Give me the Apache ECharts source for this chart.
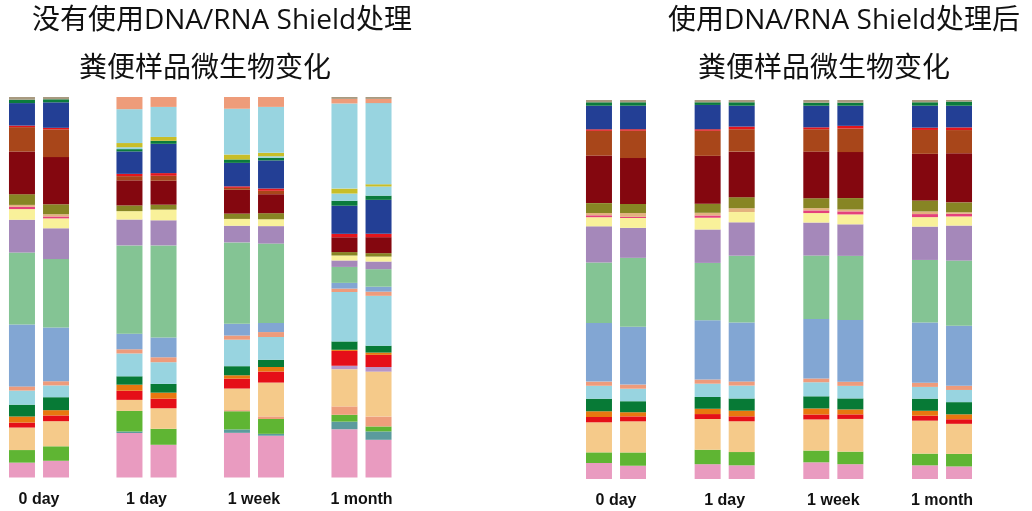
<!DOCTYPE html>
<html>
<head>
<meta charset="utf-8">
<script src="https://cdn.jsdelivr.net/npm/echarts@6/dist/echarts.min.js"></script>
<style>
  html, body { margin: 0; padding: 0; background: #fff; }
  #main { width: 1032px; height: 511px; }
</style>
</head>
<body>
<div id="main"></div>
<script>
// 时间点
const days = ['0 day', '1 day', '1 week', '1 month'];

// 各菌群相对丰度（自下而上），每组16个值：
// 未处理 0d a/b, 1d a/b, 1w a/b, 1m a/b，然后处理后同样顺序
const pink       = [3.9, 4.4, 11.7, 8.6, 11.8, 11.0, 12.7, 9.9, 4.2, 3.5, 3.9, 3.6, 4.4, 3.9, 3.6, 3.3];
const teal       = [0, 0, 0.4, 0, 0.9, 0.5, 2.0, 2.2, 0, 0, 0, 0, 0, 0, 0, 0];
const green      = [3.3, 3.8, 5.4, 4.2, 4.8, 3.9, 1.8, 1.3, 2.8, 3.5, 3.8, 3.5, 3.1, 3.3, 3.1, 3.3];
const salmonLow  = [0, 0, 0, 0, 0.3, 0.7, 2.2, 2.6, 0, 0, 0, 0, 0, 0, 0, 0];
const peach      = [5.9, 6.6, 2.9, 5.4, 5.7, 8.9, 9.8, 11.8, 7.9, 8.2, 8.1, 8.1, 8.2, 8.6, 8.7, 7.9];
const lavender   = [0, 0, 0, 0, 0, 0, 0.9, 1.2, 0, 0, 0, 0, 0, 0, 0, 0];
const red        = [1.3, 1.5, 2.4, 2.5, 2.6, 2.9, 3.9, 3.2, 1.4, 1.3, 1.3, 1.3, 1.3, 1.2, 1.3, 1.2];
const orange     = [1.6, 1.4, 1.6, 1.6, 0.9, 1.2, 0.3, 0.6, 1.5, 1.1, 1.4, 1.5, 1.6, 1.3, 1.3, 1.3];
const darkGreen  = [3.1, 3.4, 2.2, 2.3, 2.4, 1.9, 2.2, 1.8, 3.3, 2.9, 3.1, 3.2, 3.2, 2.9, 3.2, 3.2];
const skyBlue    = [3.7, 3.1, 6.0, 5.7, 7.0, 6.0, 13.0, 13.1, 3.4, 3.3, 3.5, 3.4, 3.7, 3.3, 3.1, 3.2];
const salmon     = [1.1, 1.1, 1.1, 1.3, 1.1, 1.3, 0.9, 1.1, 1.1, 1.1, 1.1, 1.1, 1.0, 1.1, 1.1, 1.1];
const steelBlue  = [16.2, 14.1, 4.1, 5.2, 3.1, 2.4, 1.5, 1.3, 15.4, 15.2, 15.6, 15.5, 15.7, 16.2, 15.9, 15.8];
const mint       = [18.9, 18.0, 23.2, 24.2, 21.5, 20.9, 4.2, 4.6, 15.9, 18.2, 15.1, 17.6, 16.7, 16.9, 16.5, 17.1];
const purple     = [8.6, 8.1, 6.8, 6.6, 4.4, 4.6, 1.7, 2.0, 9.5, 7.9, 8.8, 8.8, 8.7, 8.3, 8.8, 9.2];
const paleYellow = [2.8, 2.6, 2.2, 2.8, 1.8, 1.8, 1.3, 1.3, 2.4, 2.6, 3.1, 2.7, 2.5, 2.6, 2.5, 2.4];
const magenta    = [0.6, 0.5, 0, 0, 0, 0, 0, 0, 0.5, 0.3, 0.6, 0, 0.7, 0.8, 0.8, 0.7];
const tan        = [0.5, 0.6, 0, 0, 0, 0, 0, 0, 0.6, 1.0, 0.7, 1.0, 0.6, 0.5, 0.7, 0.4];
const olive      = [2.8, 2.6, 1.5, 1.3, 1.4, 1.6, 0.9, 0.9, 2.6, 2.4, 2.4, 2.9, 2.6, 3.0, 2.9, 2.6];
const darkRed    = [11.2, 12.4, 6.6, 6.3, 6.3, 5.0, 3.9, 4.2, 12.5, 12.1, 12.6, 12.0, 12.3, 12.1, 12.3, 12.9];
const rust       = [6.4, 7.3, 1.1, 1.3, 0.5, 0.9, 0, 0, 6.5, 7.2, 6.6, 5.9, 5.9, 6.2, 6.3, 6.1];
const brightRed  = [0.4, 0.4, 0.6, 0.7, 0.4, 0.6, 0.9, 0.9, 0.4, 0.4, 0.4, 0.7, 0.5, 0.7, 0.6, 0.7];
const navy       = [5.9, 6.7, 5.9, 7.7, 6.2, 7.4, 7.4, 8.9, 6.2, 6.2, 6.4, 5.5, 5.7, 5.3, 5.8, 5.7];
const forest     = [0.9, 0.8, 0.6, 0.8, 0.9, 0.7, 1.3, 1.1, 0.9, 0.9, 0.7, 0.9, 0.8, 0.8, 0.9, 1.1];
const skyBlueB   = [0, 0, 0.5, 0, 0, 0.4, 1.9, 2.4, 0, 0, 0, 0, 0, 0, 0, 0];
const mustard    = [0, 0, 1.1, 1.0, 1.3, 0.9, 1.3, 0.6, 0, 0, 0, 0, 0, 0, 0, 0];
const skyBlueTop = [0, 0, 8.9, 7.9, 12.1, 12.1, 22.4, 21.3, 0, 0, 0, 0, 0, 0, 0, 0];
const salmonTop  = [0, 0, 3.2, 2.6, 3.1, 2.6, 1.2, 1.1, 0, 0, 0, 0, 0, 0, 0, 0];
const greyTop    = [0.7, 0.6, 0, 0, 0, 0, 0.5, 0.5, 0.6, 0.6, 0.6, 0.6, 0.7, 0.7, 0.6, 0.4];

const taxa = [pink, teal, green, salmonLow, peach, lavender, red, orange, darkGreen, skyBlue,
  salmon, steelBlue, mint, purple, paleYellow, magenta, tan, olive, darkRed, rust,
  brightRed, navy, forest, skyBlueB, mustard, skyBlueTop, salmonTop, greyTop];

// 颜色，与上面的顺序一一对应
const colors = ['#E99BC0', '#5B9B9D', '#5FB533', '#EE9E7C', '#F5CA8A', '#B695C8', '#E50F18', '#E8770F',
  '#077A36', '#98D4E0', '#EE9B7B', '#82A6D3', '#84C494', '#A588BA', '#F9F19A', '#E4417C',
  '#E3B27F', '#878524', '#84070F', '#A8461A', '#E3161C', '#233F95', '#0B7B3C', '#98D4E0',
  '#C8BE28', '#98D4E0', '#EE9C7A', '#A89A80'];

// 每根柱子归一化到100%
const totals = pink.map((_, i) => taxa.reduce((s, t) => s + t[i], 0));

const chart = echarts.init(document.getElementById('main'));

const grids = [
  { left: 39, width: 322.5, top: 97, height: 380.5 },
  { left: 616, width: 326, top: 100, height: 379 }
];

const series = [];
grids.forEach((g, p) => {
  ['a', 'b'].forEach((rep, r) => {
    taxa.forEach((vals, k) => {
      series.push({
        type: 'bar',
        xAxisIndex: p,
        yAxisIndex: p,
        stack: 'p' + p + rep,
        barWidth: 26,
        barGap: '31%',
        clip: false,
        silent: true,
        itemStyle: { color: colors[k] },
        data: days.map((d, i) => {
          const idx = p * 8 + i * 2 + r;
          return vals[idx] * 100 / totals[idx];
        })
      });
    });
  });
});

const titleFont = '28px "Open Sans", "Noto Sans CJK SC"';

const option = {
  animation: false,
  grid: grids,
  xAxis: grids.map((g, p) => ({
    type: 'category',
    gridIndex: p,
    data: days,
    boundaryGap: false,
    axisLine: { show: false },
    axisTick: { show: false },
    axisLabel: {
      margin: 14,
      fontSize: 16,
      fontWeight: 'bold',
      fontFamily: 'Liberation Sans',
      color: '#111'
    }
  })),
  yAxis: grids.map((g, p) => ({
    type: 'value',
    gridIndex: p,
    min: 0,
    max: 100,
    show: false
  })),
  graphic: [
    { type: 'text', x: 222, y: 21, style: { text: '没有使用DNA/RNA Shield处理', font: titleFont, fill: '#111', align: 'center', verticalAlign: 'middle' } },
    { type: 'text', x: 205, y: 69, style: { text: '粪便样品微生物变化', font: titleFont, fill: '#111', align: 'center', verticalAlign: 'middle' } },
    { type: 'text', x: 844, y: 21, style: { text: '使用DNA/RNA Shield处理后', font: titleFont, fill: '#111', align: 'center', verticalAlign: 'middle' } },
    { type: 'text', x: 824, y: 69, style: { text: '粪便样品微生物变化', font: titleFont, fill: '#111', align: 'center', verticalAlign: 'middle' } }
  ],
  series: series
};

chart.setOption(option);
</script>
</body>
</html>
